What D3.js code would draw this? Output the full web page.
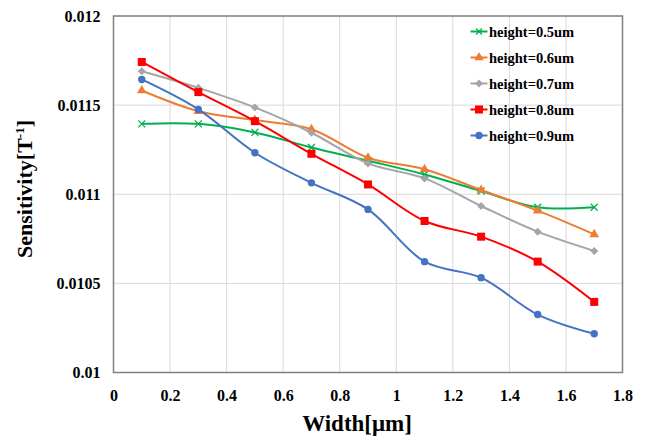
<!DOCTYPE html>
<html>
<head>
<meta charset="utf-8">
<title>Sensitivity vs width</title>
<style>
body { margin: 0; background: #fff; }
svg { display: block; font-family: "Liberation Serif", "Times New Roman", serif; }
.grid line { stroke: #d9d9d9; stroke-width: 1px; }
.tick text { font-family: "Liberation Serif", "Times New Roman", serif; font-weight: bold; font-size: 16px; fill: #000; }
</style>
<script src="https://d3js.org/d3.v7.min.js"></script>
</head>
<body>
<div id="chart"></div>
<script>
// data
var widths = [0.1, 0.3, 0.5, 0.7, 0.9, 1.1, 1.3, 1.5, 1.7];
var seriesNames = ['height=0.5um', 'height=0.6um', 'height=0.7um', 'height=0.8um', 'height=0.9um'];
var h05 = [0.011395, 0.011395, 0.011347, 0.011262, 0.011188, 0.011111, 0.011018, 0.010927, 0.010927];
var h06 = [0.011582, 0.011466, 0.011416, 0.011365, 0.011205, 0.011140, 0.011024, 0.010908, 0.010775];
var h07 = [0.011690, 0.011597, 0.011487, 0.011345, 0.011173, 0.011089, 0.010934, 0.010790, 0.010682];
var h08 = [0.011742, 0.011573, 0.011410, 0.011227, 0.011055, 0.010850, 0.010762, 0.010622, 0.010396];
var h09 = [0.011644, 0.011476, 0.011233, 0.011064, 0.010915, 0.010622, 0.010532, 0.010325, 0.010217];
var xTicks = [0, 0.2, 0.4, 0.6, 0.8, 1, 1.2, 1.4, 1.6, 1.8];
var yTicks = [0.01, 0.0105, 0.011, 0.0115, 0.012];
var colors = ['#00b050', '#ed7d31', '#a5a5a5', '#ff0000', '#4472c4'];
var markers = ['cross', 'triangle', 'diamond', 'square', 'circle'];

var allValues = [h05, h06, h07, h08, h09];

var W = 651, H = 439;
var svg = d3.select('#chart').append('svg').attr('width', W).attr('height', H);

var x = d3.scaleLinear().domain([0, 1.8]).range([113.5, 622.5]);
var y = d3.scaleLinear().domain([0.01, 0.012]).range([372.5, 16]);

// grid
var grid = svg.append('g').attr('class', 'grid');
grid.selectAll('line.v').data(xTicks.slice(1, -1)).enter().append('line')
  .attr('x1', d => x(d)).attr('x2', d => x(d)).attr('y1', y(0.012)).attr('y2', y(0.01));
grid.selectAll('line.h').data(yTicks.slice(1, -1)).enter().append('line')
  .attr('x1', x(0)).attr('x2', x(1.8)).attr('y1', d => y(d)).attr('y2', d => y(d));

// plot border
svg.append('rect')
  .attr('x', x(0)).attr('y', y(0.012))
  .attr('width', x(1.8) - x(0)).attr('height', y(0.01) - y(0.012))
  .attr('fill', 'none').attr('stroke', '#7f7f7f').attr('stroke-width', 1.5);

// axes (labels only)
var xAxis = svg.append('g').attr('transform', 'translate(0,' + y(0.01) + ')')
  .call(d3.axisBottom(x).tickValues(xTicks).tickFormat(d3.format('')).tickSize(0).tickPadding(17));
xAxis.select('.domain').remove();
xAxis.attr('font-family', null).attr('font-size', null);

var yAxis = svg.append('g').attr('transform', 'translate(' + x(0) + ',0)')
  .call(d3.axisLeft(y).tickValues(yTicks).tickFormat(d => String(+d.toFixed(5))).tickSize(0).tickPadding(13));
yAxis.select('.domain').remove();
yAxis.attr('font-family', null).attr('font-size', null);

// axis titles
svg.append('text').attr('x', 357).attr('y', 431).attr('text-anchor', 'middle')
  .attr('font-size', 23).attr('font-weight', 'bold').text('Width[\u03bcm]');

var yt = svg.append('text').attr('transform', 'translate(32,189) rotate(-90)')
  .attr('text-anchor', 'middle').attr('font-size', 22).attr('font-weight', 'bold');
yt.append('tspan').text('Sensitivity[T');
yt.append('tspan').attr('font-size', 13).attr('dy', -8).text('-1');
yt.append('tspan').attr('dy', 8).text(']');

// lines
var line = d3.line().x((d, i) => x(widths[i])).y(d => y(d)).curve(d3.curveCatmullRom.alpha(0.5));

function drawMarker(g, type, color, size) {
  if (type === 'cross') {
    var s = size / 2;
    g.append('path').attr('d', 'M' + (-s) + ',' + (-s) + 'L' + s + ',' + s + 'M' + (-s) + ',' + s + 'L' + s + ',' + (-s))
      .attr('stroke', color).attr('stroke-width', 1.3).attr('fill', 'none');
  } else if (type === 'triangle') {
    g.append('path').attr('d', d3.symbol(d3.symbolTriangle, 40)()).attr('fill', color);
  } else if (type === 'diamond') {
    g.append('path').attr('d', 'M0,-4L4,0L0,4L-4,0Z').attr('fill', color);
  } else if (type === 'square') {
    g.append('rect').attr('x', -4).attr('y', -4).attr('width', 8).attr('height', 8).attr('fill', color);
  } else {
    g.append('circle').attr('r', 3.7).attr('fill', color);
  }
}

allValues.forEach(function (vals, k) {
  svg.append('path').datum(vals).attr('d', line)
    .attr('fill', 'none').attr('stroke', colors[k]).attr('stroke-width', 2);
  var pts = svg.append('g').selectAll('g').data(vals).enter().append('g')
    .attr('transform', (d, i) => 'translate(' + x(widths[i]) + ',' + y(d) + ')');
  pts.each(function () { drawMarker(d3.select(this), markers[k], colors[k], 7); });
});

// legend
var legend = svg.append('g');
seriesNames.forEach(function (name, k) {
  var ly = 31.5 + k * 26;
  var g = legend.append('g').attr('transform', 'translate(0,' + ly + ')');
  g.append('line').attr('x1', 470.5).attr('x2', 487.5).attr('y1', 0).attr('y2', 0)
    .attr('stroke', colors[k]).attr('stroke-width', 2);
  var m = g.append('g').attr('transform', 'translate(479,0)');
  drawMarker(m, markers[k], colors[k], 6);
  g.append('text').attr('x', 489).attr('y', 5).attr('font-size', 14.5).attr('font-weight', 'bold')
    .text(name);
});
</script>
</body>
</html>
